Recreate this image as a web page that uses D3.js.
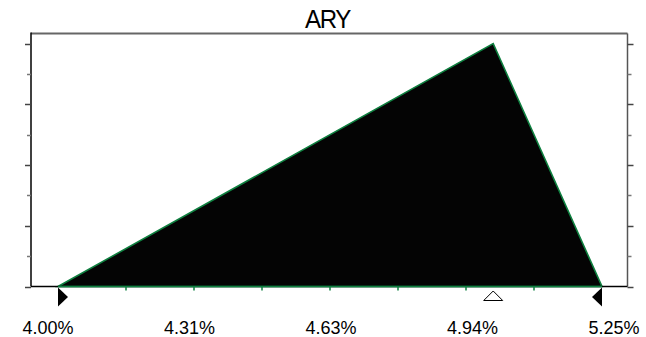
<!DOCTYPE html>
<html><head><meta charset="utf-8">
<script src="https://cdn.jsdelivr.net/npm/d3@7"></script>
<style>html,body{margin:0;padding:0;background:#fff;}svg{display:block;}</style>
</head><body>
<script>
const title = "ARY";
const xValues = [4.00, 5.00, 5.25];
const densityValues = [0, 1.6, 0];
const xLabelValues = [4.00, 4.3125, 4.625, 4.9375, 5.25];
const xLabels = ["4.00%", "4.31%", "4.63%", "4.94%", "5.25%"];
const xMinorTicks = [4.15625, 4.3125, 4.46875, 4.625, 4.78125, 4.9375, 5.09375];
const yTicks = [0, 0.2, 0.4, 0.6, 0.8, 1.0, 1.2, 1.4, 1.6];
const yMax = 5 / 3;

const W = 646, H = 337;
const frame = {left: 31, right: 627.5, top: 33.5, bottom: 286.5};
const svg = d3.select("body").append("svg").attr("width", W).attr("height", H);

const x = d3.scaleLinear().domain([4.00, 5.25]).range([58, 602]);
const xLab = d3.scaleLinear().domain([4.00, 5.25]).range([48, 614]);
const y = d3.scaleLinear().domain([0, yMax]).range([frame.bottom, frame.top]);

const pts = xValues.map((v, i) => [v, densityValues[i]]);

// area
svg.append("path")
  .datum(pts)
  .attr("d", d3.area().x(d => x(d[0])).y0(y(0)).y1(d => y(d[1])))
  .attr("fill", "#040404")
  .attr("stroke", "#0f8040")
  .attr("stroke-width", 1.6)
  .attr("stroke-linejoin", "miter");

// frame
svg.append("line").attr("x1", frame.left).attr("x2", frame.right).attr("y1", frame.top).attr("y2", frame.top)
  .attr("stroke", "#666").attr("stroke-width", 2);
svg.append("line").attr("x1", frame.right).attr("x2", frame.right).attr("y1", frame.top).attr("y2", frame.bottom)
  .attr("stroke", "#555").attr("stroke-width", 1.5);
svg.append("line").attr("x1", frame.left).attr("x2", frame.left).attr("y1", frame.top - 1).attr("y2", frame.bottom)
  .attr("stroke", "#000").attr("stroke-width", 1.5);
// baseline
svg.append("line").attr("x1", frame.left).attr("x2", x(5.25)).attr("y1", y(0)).attr("y2", y(0))
  .attr("stroke", "#000").attr("stroke-width", 1.5);
svg.append("line").attr("x1", x(5.25)).attr("x2", frame.right).attr("y1", y(0)).attr("y2", y(0))
  .attr("stroke", "#000").attr("stroke-width", 1.5);
svg.append("line").attr("x1", x(4.0)).attr("x2", x(5.25)).attr("y1", y(0)).attr("y2", y(0))
  .attr("stroke", "#0f8040").attr("stroke-width", 1.5);

// y ticks left & right
yTicks.forEach((t, i) => {
  const major = i % 2 === 0;
  const yy = Math.round(y(t)) + 0.5;
  svg.append("line").attr("x1", frame.left - (major ? 6 : 4)).attr("x2", frame.left)
    .attr("y1", yy).attr("y2", yy).attr("stroke", major ? "#444" : "#777").attr("stroke-width", 1.5);
  svg.append("line").attr("x1", frame.right).attr("x2", frame.right + (major ? 6 : 4))
    .attr("y1", yy).attr("y2", yy).attr("stroke", major ? "#444" : "#777").attr("stroke-width", 1.5);
});

// x minor ticks (green)
svg.selectAll(".xt").data(xMinorTicks).enter().append("line")
  .attr("x1", d => x(d)).attr("x2", d => x(d))
  .attr("y1", y(0)).attr("y2", y(0) + 4)
  .attr("stroke", "#0f8040").attr("stroke-width", 1.5);

// markers
const by = y(0) + 1;
svg.append("path")
  .attr("d", `M${x(4.0)},${by} L${x(4.0) + 10},${by + 9.5} L${x(4.0)},${by + 19} Z`)
  .attr("fill", "#000");
svg.append("path")
  .attr("d", `M${x(5.25)},${by} L${x(5.25) - 10},${by + 9.5} L${x(5.25)},${by + 19} Z`)
  .attr("fill", "#000");
const mx = x(xValues[1]);
svg.append("path")
  .attr("d", `M${mx},${by + 3.5} L${mx + 9.5},${by + 13} L${mx - 9.5},${by + 13} Z`)
  .attr("fill", "#fff").attr("stroke", "#000").attr("stroke-width", 1);

// x labels
svg.selectAll(".xl").data(xLabelValues).enter().append("text")
  .attr("x", d => xLab(d)).attr("y", 334)
  .attr("text-anchor", "middle")
  .attr("font-family", "Liberation Sans, Arial, sans-serif")
  .attr("font-size", 18).attr("fill", "#000")
  .text((d, i) => xLabels[i]);

// title
svg.append("text").attr("x", 327.5).attr("y", 28)
  .attr("text-anchor", "middle")
  .attr("font-family", "Liberation Sans, Arial, sans-serif")
  .attr("font-size", 26).attr("letter-spacing", -1.5)
  .attr("textLength", 45).attr("lengthAdjust", "spacingAndGlyphs")
  .attr("fill", "#000").text(title);
</script>
</body></html>
